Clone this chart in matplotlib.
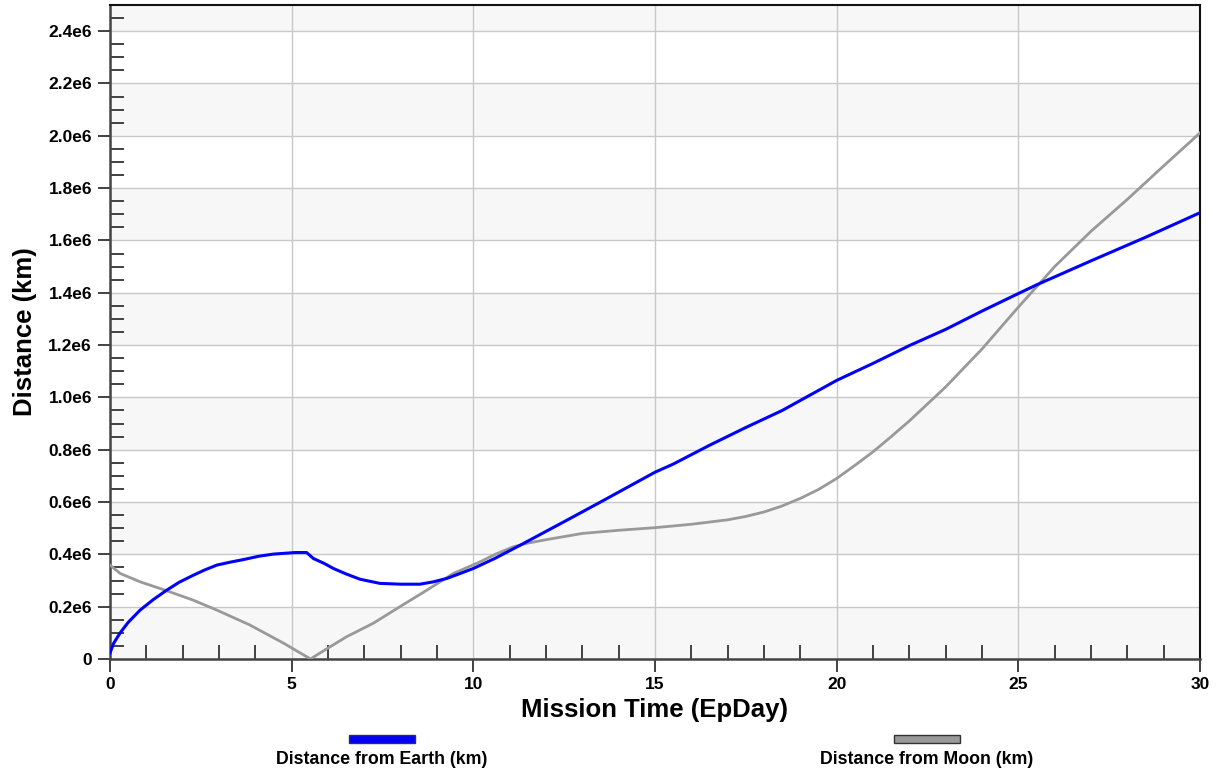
import numpy as np
import matplotlib
matplotlib.use("Agg")
import matplotlib.pyplot as plt
from matplotlib.patches import Rectangle
from matplotlib.ticker import MultipleLocator, FixedLocator, FuncFormatter

plt.rcParams['font.family'] = ['Liberation Sans', 'DejaVu Sans']

# mission time (days) and distances (km)
t_earth = [0.0, 0.1, 0.28, 0.5, 0.83, 1.2, 1.56, 1.9, 2.29, 2.6, 2.94, 3.3, 3.67, 4.1,
           4.5, 5.1, 5.41, 5.6, 5.9, 6.15, 6.5, 6.88, 7.43, 8.0, 8.53, 8.9, 9.27, 9.6,
           10.0, 10.6, 11.29, 12.5, 13.5, 15.0, 15.5, 16.5, 17.5, 18.5, 20.0, 21.0,
           22.0, 23.0, 24.0, 25.0, 25.5, 27.0, 28.5, 30.0]
d_earth = [0.023e6, 0.06e6, 0.10e6, 0.14e6, 0.187e6, 0.228e6, 0.263e6, 0.293e6, 0.32e6,
           0.34e6, 0.359e6, 0.37e6, 0.38e6, 0.393e6, 0.401e6, 0.407e6, 0.407e6,
           0.384e6, 0.365e6, 0.346e6, 0.325e6, 0.305e6, 0.289e6, 0.286e6, 0.286e6,
           0.295e6, 0.308e6, 0.325e6, 0.346e6, 0.385e6, 0.435e6, 0.525e6, 0.60e6,
           0.714e6, 0.745e6, 0.817e6, 0.885e6, 0.95e6, 1.065e6, 1.13e6, 1.198e6,
           1.26e6, 1.33e6, 1.397e6, 1.43e6, 1.522e6, 1.612e6, 1.706e6]

t_moon = [0.0, 0.28, 0.83, 1.56, 2.29, 2.94, 3.85, 4.77, 5.52, 5.78, 6.51, 7.25, 7.98,
          8.72, 9.45, 10.18, 10.6, 11.1, 11.5, 12.0, 12.5, 13.0, 14.0, 15.0, 16.0, 17.0,
          17.5, 18.0, 18.5, 19.0, 19.5, 20.0, 20.5, 21.0, 21.5, 22.0, 23.0, 24.0, 25.0,
          26.0, 27.0, 28.0, 29.0, 30.0]
d_moon = [0.359e6, 0.327e6, 0.295e6, 0.261e6, 0.225e6, 0.187e6, 0.13e6, 0.061e6, 0.0,
          0.023e6, 0.085e6, 0.137e6, 0.20e6, 0.263e6, 0.327e6, 0.371e6, 0.400e6,
          0.429e6, 0.443e6, 0.456e6, 0.468e6, 0.48e6, 0.492e6, 0.502e6, 0.515e6,
          0.532e6, 0.545e6, 0.562e6, 0.585e6, 0.614e6, 0.648e6, 0.69e6, 0.74e6, 0.792e6,
          0.85e6, 0.91e6, 1.04e6, 1.185e6, 1.345e6, 1.5e6, 1.635e6, 1.757e6, 1.885e6,
          2.011e6]

labels = ["Distance from Earth (km)", "Distance from Moon (km)"]
colors = ["#0000ff", "#999999"]

fig = plt.figure(figsize=(12.17, 7.76), dpi=100)
ax = fig.add_axes([110 / 1217, 117 / 776, 1090 / 1217, 654 / 776])

ax.set_xlim(0, 30)
ax.set_ylim(0, 2.5e6)

# alternating bands between major y gridlines
for lo in np.arange(0, 2.5e6, 0.4e6):
    ax.axhspan(lo, min(lo + 0.2e6, 2.5e6), color="#f7f7f7", zorder=0, lw=0)

ax.plot(t_moon, d_moon, color=colors[1], lw=2.0, zorder=3)
ax.plot(t_earth, d_earth, color=colors[0], lw=2.2, zorder=4)

ax.xaxis.set_major_locator(MultipleLocator(5))
ax.xaxis.set_minor_locator(FixedLocator([i for i in range(31) if i % 5]))
ax.yaxis.set_major_locator(MultipleLocator(0.2e6))
ax.yaxis.set_minor_locator(FixedLocator([i * 0.05e6 for i in range(51) if i % 4]))
ax.yaxis.set_major_formatter(FuncFormatter(lambda v, p: "0" if v == 0 else f"{v / 1e6:.1f}e6"))

ax.grid(which="major", color="#c8c8c8", lw=1.0, zorder=1)
ax.set_axisbelow(True)

ax.tick_params(which="major", direction="out", length=9, width=1.3, color="#333333",
               labelsize=12.5, pad=4)
ax.tick_params(which="minor", direction="in", length=10, width=1.3, color="#333333")
for lab in ax.get_xticklabels() + ax.get_yticklabels():
    lab.set_fontweight("bold")

for s in ["left", "bottom"]:
    ax.spines[s].set_color("#444444")
    ax.spines[s].set_linewidth(1.8)
for s in ["top", "right"]:
    ax.spines[s].set_color("#111111")
    ax.spines[s].set_linewidth(1.5)

ax.set_xlabel("Mission Time (EpDay)", fontsize=18.5, fontweight="bold", labelpad=4)
ax.set_ylabel("Distance (km)", fontsize=18.5, fontweight="bold", labelpad=8)

# legend: swatch above text
for cx, lab, col in zip([382, 927], labels, colors):
    fig.patches.append(Rectangle(((cx - 33) / 1217, 1 - 743 / 776), 66 / 1217, 8 / 776,
                                 facecolor=col, edgecolor="#333333", lw=1.0,
                                 transform=fig.transFigure, figure=fig))
    fig.text(cx / 1217, 1 - 760 / 776, lab, ha="center", va="center",
             fontsize=12.8, fontweight="bold")

plt.savefig("out.png", dpi=100)
